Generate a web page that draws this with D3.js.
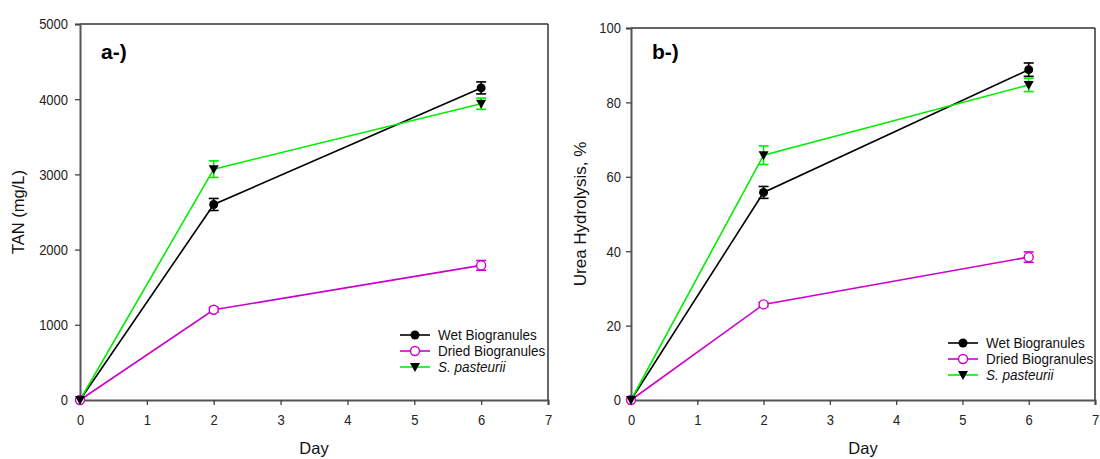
<!DOCTYPE html>
<html>
<head>
<meta charset="utf-8">
<script src="https://cdn.jsdelivr.net/npm/d3@7"></script>
<style>
  body { margin: 0; background: #fff; }
  svg { display: block; font-family: "Liberation Sans", Arial, sans-serif; }
</style>
</head>
<body>
<svg id="chart" width="1100" height="459"></svg>
<script>
// sampling days
const days = [0, 2, 6];

// panel a: TAN (mg/L)
const wetTAN = [0, 2600, 4150];
const wetTANErr = [0, 80, 80];
const driedTAN = [0, 1200, 1790];
const driedTANErr = [0, 30, 65];
const spTAN = [0, 3070, 3940];
const spTANErr = [0, 110, 75];

// panel b: urea hydrolysis (%)
const wetUrea = [0, 55.8, 88.8];
const wetUreaErr = [0, 1.6, 1.8];
const driedUrea = [0, 25.7, 38.4];
const driedUreaErr = [0, 0.6, 1.4];
const spUrea = [0, 65.8, 84.7];
const spUreaErr = [0, 2.5, 1.8];

const seriesNames = ["Wet Biogranules", "Dried Biogranules", "S. pasteurii"];
const seriesColors = ["#000000", "#cc00cc", "#00ee00"];

const svg = d3.select("#chart");

// the source figure has slightly tall lettering; stretch text vertically about its own y
function stretch(sel, k) {
  sel.each(function () {
    const t = d3.select(this);
    const yy = +t.attr("y") || 0;
    t.attr("transform", `translate(0,${yy}) scale(1,${k}) translate(0,${-yy})`);
  });
}

function drawPanel(opt) {
  const x = d3.scaleLinear().domain([0, 7]).range([opt.left, opt.right]);
  const y = d3.scaleLinear().domain([0, opt.ymax]).range([opt.bottom, opt.top]);
  const g = svg.append("g");

  // frame top + right
  g.append("line").attr("x1", opt.left).attr("x2", opt.right)
    .attr("y1", opt.top).attr("y2", opt.top).attr("stroke", "#333").attr("stroke-width", 1.5);
  g.append("line").attr("x1", opt.right).attr("x2", opt.right)
    .attr("y1", opt.top).attr("y2", opt.bottom).attr("stroke", "#333").attr("stroke-width", 1.5);

  const xAxis = g.append("g")
    .attr("transform", `translate(0,${opt.bottom})`)
    .call(d3.axisBottom(x).ticks(7).tickSize(5).tickPadding(9));
  const yAxis = g.append("g")
    .attr("transform", `translate(${opt.left},0)`)
    .call(d3.axisLeft(y).tickValues(opt.yticks).tickFormat(d3.format("d")).tickSize(5).tickPadding(opt.ypad));
  [xAxis, yAxis].forEach(a => {
    a.select(".domain").attr("stroke", "#555").attr("stroke-width", 2);
    a.selectAll(".tick line").attr("stroke", "#444").attr("stroke-width", 1.3);
    a.selectAll(".tick text").attr("font-size", 13).attr("fill", "#222")
      .attr("font-family", "Liberation Sans, Arial, sans-serif")
      .call(stretch, 1.17);
  });

  // axis titles
  g.append("text").attr("x", (opt.left + opt.right) / 2).attr("y", 454)
    .attr("text-anchor", "middle").attr("font-size", 16.5).attr("fill", "#111").text("Day");
  g.append("text")
    .attr("transform", `translate(${opt.ylabX},${(opt.top + opt.bottom) / 2}) rotate(-90)`)
    .attr("text-anchor", "middle").attr("font-size", opt.ylabSize).attr("fill", "#111").text(opt.ylabel);

  // panel tag
  g.append("text").attr("x", opt.left + 21).attr("y", 59)
    .attr("font-size", 21).attr("font-weight", "bold").text(opt.tag);

  const line = d3.line().x((d, i) => x(days[i])).y(d => y(d));

  opt.series.forEach((s, k) => {
    const col = seriesColors[k];
    g.append("path").datum(s.vals).attr("d", line)
      .attr("fill", "none").attr("stroke", col).attr("stroke-width", 1.6);
    // error bars
    s.vals.forEach((v, i) => {
      if (!s.err[i]) return;
      const cx = x(days[i]);
      const y0 = y(v - s.err[i]), y1 = y(v + s.err[i]);
      const eg = g.append("g").attr("stroke", col).attr("stroke-width", 1.6);
      eg.append("line").attr("x1", cx).attr("x2", cx).attr("y1", y0).attr("y2", y1);
      eg.append("line").attr("x1", cx - 5).attr("x2", cx + 5).attr("y1", y0).attr("y2", y0);
      eg.append("line").attr("x1", cx - 5).attr("x2", cx + 5).attr("y1", y1).attr("y2", y1);
    });
  });

  // markers on top
  opt.series.forEach((s, k) => {
    s.vals.forEach((v, i) => drawMarker(g, k, x(days[i]), y(v)));
  });

  // legend
  seriesNames.forEach((name, k) => {
    const ly = opt.legY + k * 16;
    g.append("line").attr("x1", opt.legX).attr("x2", opt.legX + 30)
      .attr("y1", ly).attr("y2", ly).attr("stroke", seriesColors[k]).attr("stroke-width", 1.6);
    drawMarker(g, k, opt.legX + 15, ly);
    g.append("text").attr("x", opt.legX + 38).attr("y", ly + 5)
      .attr("font-size", 13.5).attr("fill", "#111")
      .attr("font-style", k === 2 ? "italic" : null).text(name)
      .call(stretch, 1.12);
  });
}

function drawMarker(g, k, cx, cy) {
  if (k === 0) {
    g.append("circle").attr("cx", cx).attr("cy", cy).attr("r", 4.5).attr("fill", "#000");
  } else if (k === 1) {
    g.append("circle").attr("cx", cx).attr("cy", cy).attr("r", 4.5)
      .attr("fill", "#fff").attr("stroke", seriesColors[1]).attr("stroke-width", 1.4);
  } else {
    g.append("path").attr("d", `M${cx - 5},${cy - 4}L${cx + 5},${cy - 4}L${cx},${cy + 5}Z`)
      .attr("fill", "#000");
  }
}

drawPanel({
  left: 80, right: 548, top: 24, bottom: 400, ymax: 5000,
  yticks: [0, 1000, 2000, 3000, 4000, 5000], ypad: 7,
  ylabel: "TAN (mg/L)", ylabX: 24, ylabSize: 16.5, tag: "a-)",
  legX: 400, legY: 335,
  series: [
    { vals: wetTAN, err: wetTANErr },
    { vals: driedTAN, err: driedTANErr },
    { vals: spTAN, err: spTANErr }
  ]
});

drawPanel({
  left: 631, right: 1095, top: 28, bottom: 400, ymax: 100,
  yticks: [0, 20, 40, 60, 80, 100], ypad: 5,
  ylabel: "Urea Hydrolysis, %", ylabX: 586, ylabSize: 17, tag: "b-)",
  legX: 948, legY: 343,
  series: [
    { vals: wetUrea, err: wetUreaErr },
    { vals: driedUrea, err: driedUreaErr },
    { vals: spUrea, err: spUreaErr }
  ]
});
</script>
</body>
</html>
